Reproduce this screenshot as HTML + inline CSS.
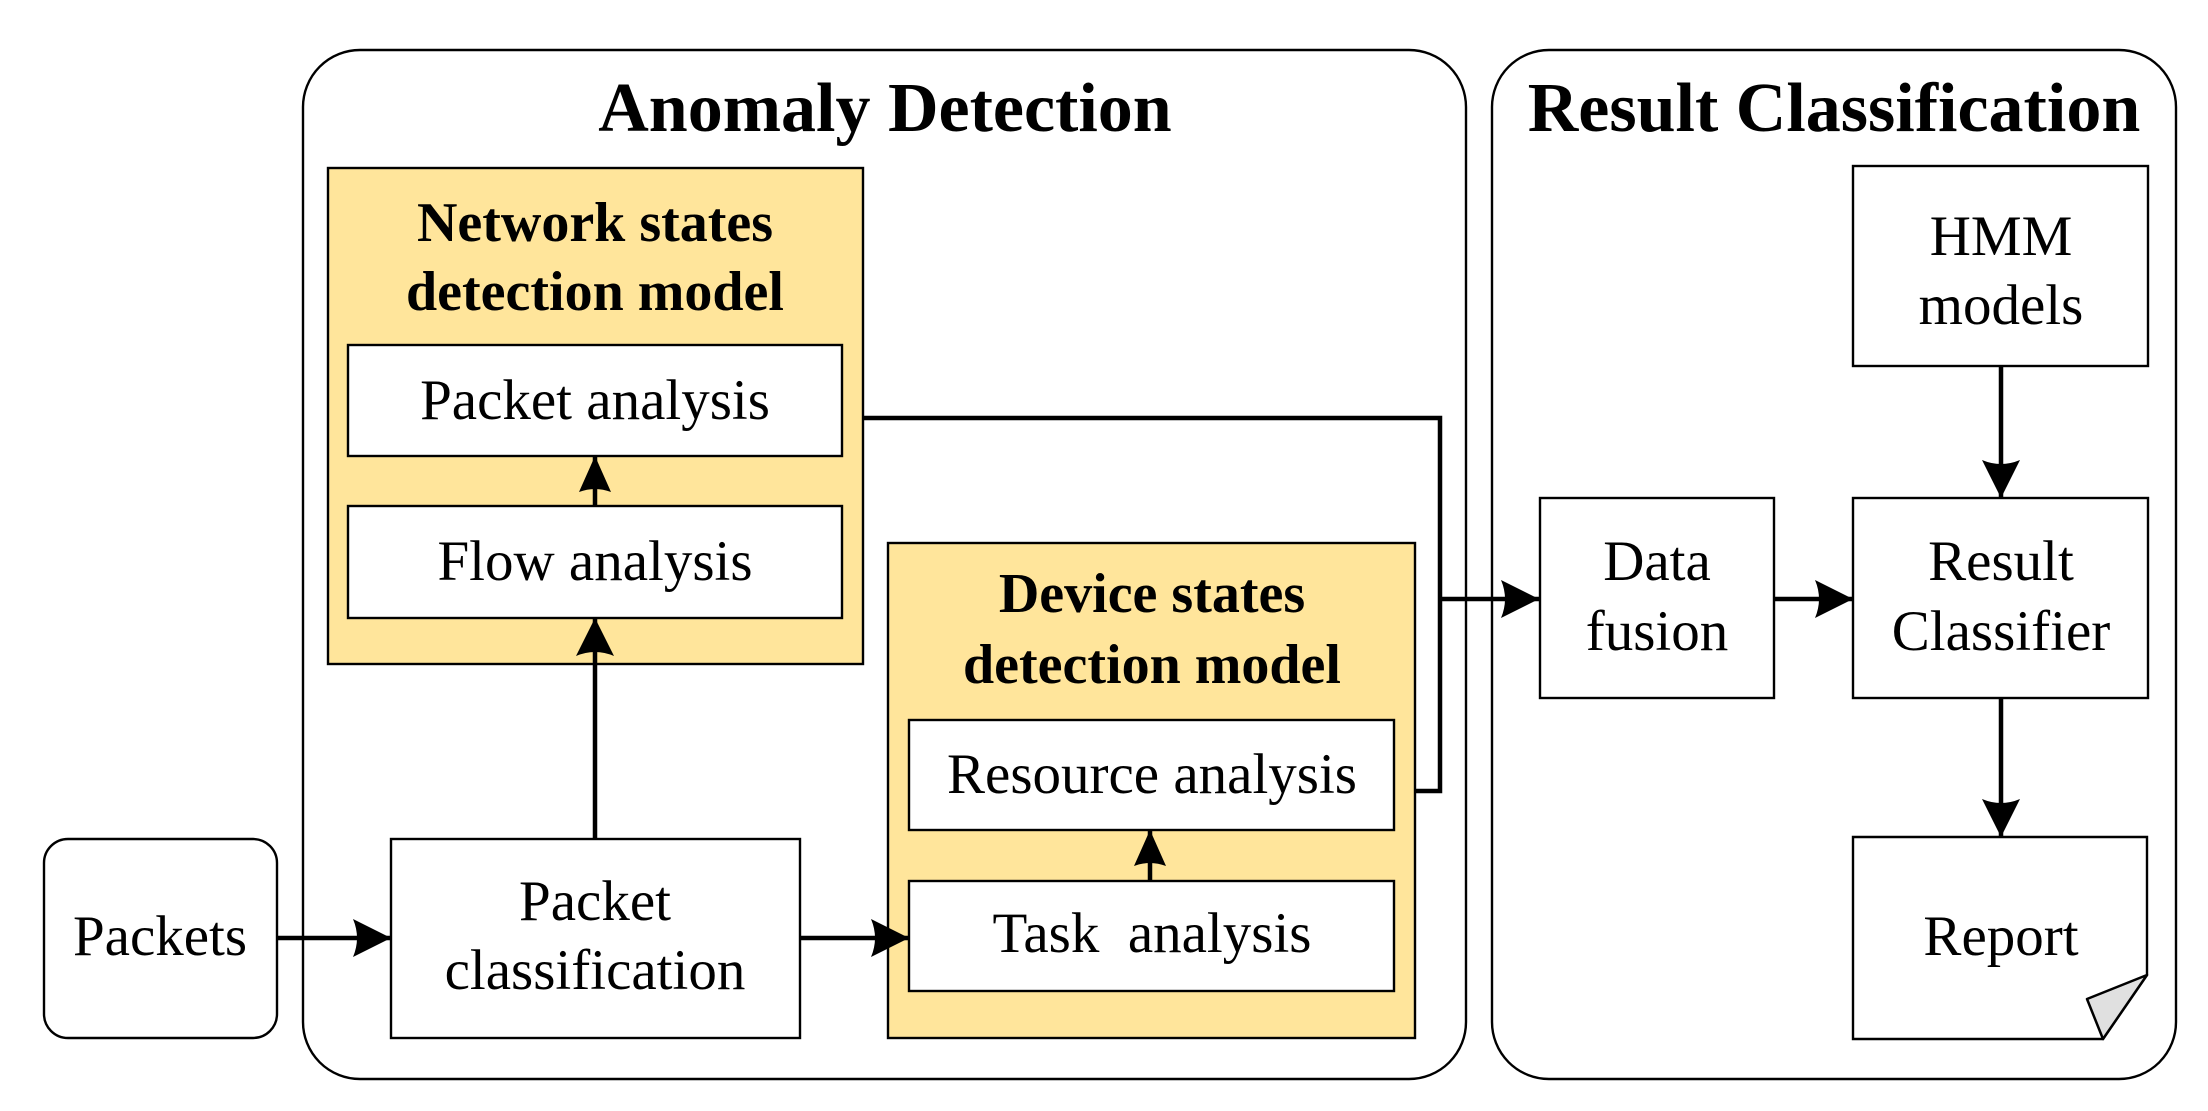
<!DOCTYPE html>
<html><head><meta charset="utf-8"><style>html,body{margin:0;padding:0;background:#fff}svg{display:block}text{font-family:"Liberation Serif","Times New Roman",serif}</style></head>
<body>
<svg width="2208" height="1111" viewBox="0 0 2208 1111" xmlns="http://www.w3.org/2000/svg">
<defs>
<marker id="ah" markerUnits="userSpaceOnUse" markerWidth="40" markerHeight="40" viewBox="0 0 40 40" refX="38" refY="20" orient="auto">
<path d="M0,1 L38,20 L0,39 Q8,20 0,1 Z" fill="#000"/>
</marker>
<marker id="ahs" markerUnits="userSpaceOnUse" markerWidth="36" markerHeight="34" viewBox="0 0 36 34" refX="36" refY="17" orient="auto">
<path d="M0,1 L36,17 L0,33 Q6,17 0,1 Z" fill="#000"/>
</marker>
</defs>
<g fill="none" stroke="#000" stroke-width="2.4">
<rect x="303" y="50" width="1163" height="1029" rx="57"/>
<rect x="1492" y="50" width="684" height="1029" rx="57"/>
<rect x="44" y="839" width="233" height="199" rx="24"/>
</g>
<rect x="328" y="168" width="535" height="496" fill="#ffe59b" stroke="#000" stroke-width="2.4"/>
<rect x="888" y="543" width="527" height="495" fill="#ffe59b" stroke="#000" stroke-width="2.4"/>
<g fill="#fff" stroke="#000" stroke-width="2.4">
<rect x="348" y="345" width="494" height="111"/>
<rect x="348" y="506" width="494" height="112"/>
<rect x="391" y="839" width="409" height="199"/>
<rect x="909" y="720" width="485" height="110"/>
<rect x="909" y="881" width="485" height="110"/>
<rect x="1540" y="498" width="234" height="200"/>
<rect x="1853" y="166" width="295" height="200"/>
<rect x="1853" y="498" width="295" height="200"/>
<path d="M1853,837 H2147 V975 L2103,1039 H1853 Z"/>
</g>
<path d="M2147,975 L2103,1039 L2087,999 Z" fill="#e0e0e0" stroke="#000" stroke-width="2.5" stroke-linejoin="round"/>
<g stroke="#000" stroke-width="4.5" fill="none">
<path d="M863,418 H1440 V791 H1415"/>
<line x1="1440" y1="599" x2="1539" y2="599" marker-end="url(#ah)"/>
<line x1="277" y1="938" x2="391" y2="938" marker-end="url(#ah)"/>
<line x1="800" y1="938" x2="909" y2="938" marker-end="url(#ah)"/>
<line x1="595" y1="839" x2="595" y2="618" marker-end="url(#ah)"/>
<line x1="595" y1="506" x2="595" y2="456" marker-end="url(#ahs)"/>
<line x1="1150" y1="881" x2="1150" y2="830" marker-end="url(#ahs)"/>
<line x1="1774" y1="599" x2="1853" y2="599" marker-end="url(#ah)"/>
<line x1="2001" y1="366" x2="2001" y2="498" marker-end="url(#ah)"/>
<line x1="2001" y1="698" x2="2001" y2="837" marker-end="url(#ah)"/>
</g>
<g font-weight="bold" text-anchor="middle" fill="#000">
<text x="885" y="131" font-size="70">Anomaly Detection</text>
<text x="1834" y="131" font-size="70">Result Classification</text>
<text x="595" y="241" font-size="56">Network states</text>
<text x="595" y="310" font-size="56">detection model</text>
<text x="1152" y="612" font-size="56">Device states</text>
<text x="1152" y="683" font-size="56">detection model</text>
</g>
<g text-anchor="middle" fill="#000" font-size="57">
<text x="595" y="419">Packet analysis</text>
<text x="595" y="580">Flow analysis</text>
<text x="595" y="920">Packet</text>
<text x="595" y="989">classification</text>
<text x="160" y="955">Packets</text>
<text x="1152" y="793">Resource analysis</text>
<text x="1152" y="952" xml:space="preserve">Task  analysis</text>
<text x="1657" y="580">Data</text>
<text x="1657" y="650">fusion</text>
<text x="2001" y="255">HMM</text>
<text x="2001" y="324">models</text>
<text x="2001" y="580">Result</text>
<text x="2001" y="650">Classifier</text>
<text x="2001" y="955">Report</text>
</g>
</svg>
</body></html>
